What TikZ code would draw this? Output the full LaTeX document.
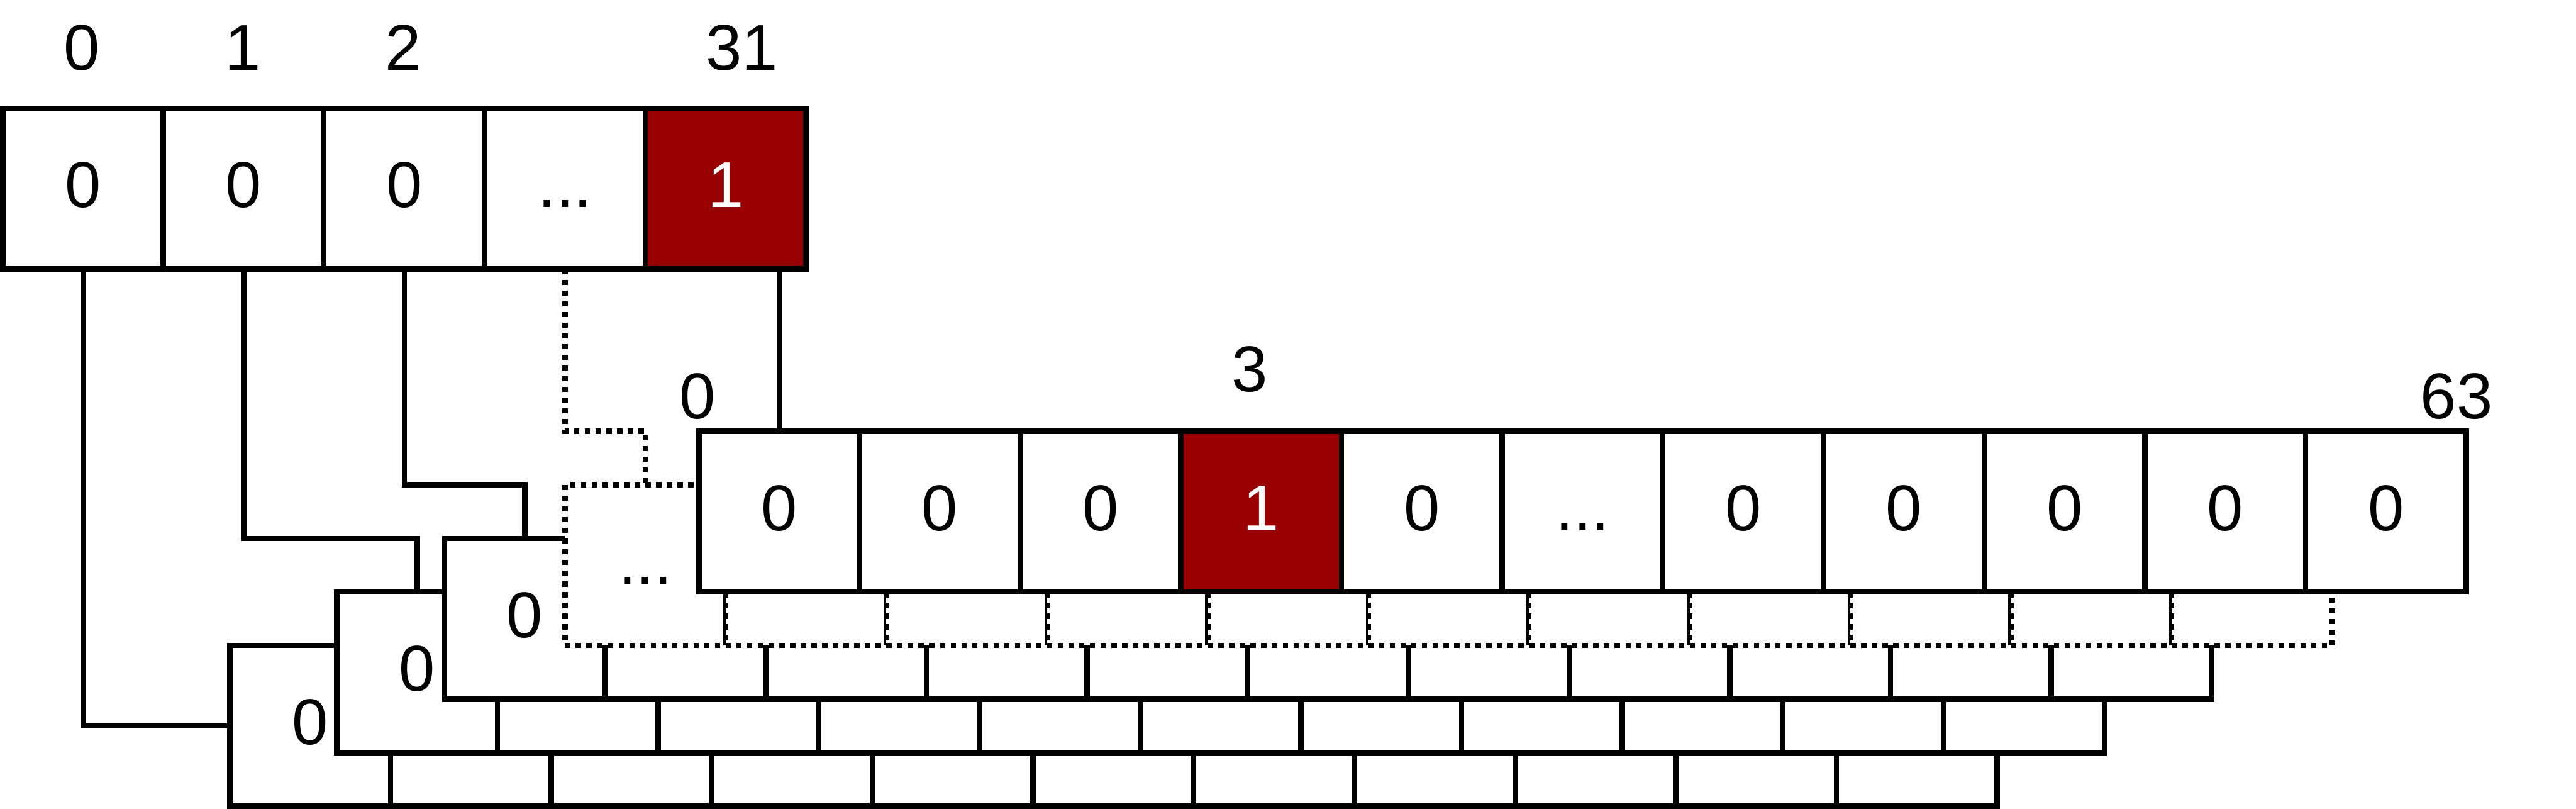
\documentclass[tikz,border=0pt]{standalone}
\usepackage{fontspec}
\setmainfont{Liberation Sans}
\definecolor{bitred}{HTML}{990000}

\begin{document}
\begin{tikzpicture}[
    font=\fontsize{17.2}{20.6}\selectfont,
    % bitmap cells
    cell/.style={rectangle, draw, line width=0.05cm, fill=white,
        minimum width=1.5cm, minimum height=1.5cm, inner sep=0pt, outer sep=0pt,
        text height=12.3pt, text depth=2.3pt},
    cellset/.style={cell, fill=bitred, text=white},
    celldots/.style={cell, dash pattern=on 0.05cm off 0.05cm},
    idx/.style={inner sep=0pt, text height=12.3pt, text depth=0pt},
    wire/.style={draw, line width=0.05cm},
    wiredots/.style={draw, line width=0.05cm, dash pattern=on 0.05cm off 0.05cm},
]
\useasboundingbox (0,0) rectangle (24.05,-7.55);

% =========================================================
% Top bitmap: 32 bits
% =========================================================
\begin{scope}[shift={(0.775,-1.76)}]
\node[cell]    (b0)  at (0,  0) {0};
\node[cell]    (b1)  at (1.5,0) {0};
\node[cell]    (b2)  at (3,  0) {0};
\node[cell]    (bd)  at (4.5,0) {...};
\node[cellset] (b31) at (6,  0) {1};
\end{scope}

% bit indices
\node[idx] (l0)  at (0.765,-0.44) {0};
\node[idx] (l1)  at (2.27, -0.44) {1};
\node[idx] (l2)  at (3.765,-0.44) {2};
\node[idx] (l31) at (6.925,-0.44) {31};

% =========================================================
% Row A: bitmap of bit 0 (back)
% =========================================================
\begin{scope}[shift={(2.895,-6.775)}]
\node[cell] (c0A)  at (0,   0) {0};
\node[cell] (c1A)  at (1.5, 0) {};
\node[cell] (c2A)  at (3,   0) {};
\node[cell] (c3A)  at (4.5, 0) {};
\node[cell] (c4A)  at (6,   0) {};
\node[cell] (c5A)  at (7.5, 0) {};
\node[cell] (c6A)  at (9,   0) {};
\node[cell] (c7A)  at (10.5,0) {};
\node[cell] (c8A)  at (12,  0) {};
\node[cell] (c9A)  at (13.5,0) {};
\node[cell] (c10A) at (15,  0) {};
\end{scope}

% =========================================================
% Row B: bitmap of bit 1
% =========================================================
\begin{scope}[shift={(3.895,-6.275)}]
\node[cell] (c0B)  at (0,   0) {0};
\node[cell] (c1B)  at (1.5, 0) {};
\node[cell] (c2B)  at (3,   0) {};
\node[cell] (c3B)  at (4.5, 0) {};
\node[cell] (c4B)  at (6,   0) {};
\node[cell] (c5B)  at (7.5, 0) {};
\node[cell] (c6B)  at (9,   0) {};
\node[cell] (c7B)  at (10.5,0) {};
\node[cell] (c8B)  at (12,  0) {};
\node[cell] (c9B)  at (13.5,0) {};
\node[cell] (c10B) at (15,  0) {};
\end{scope}

% =========================================================
% Row C: bitmap of bit 2
% =========================================================
\begin{scope}[shift={(4.9,-5.775)}]
\node[cell] (c0C)  at (0,   0) {0};
\node[cell] (c1C)  at (1.5, 0) {};
\node[cell] (c2C)  at (3,   0) {};
\node[cell] (c3C)  at (4.5, 0) {};
\node[cell] (c4C)  at (6,   0) {};
\node[cell] (c5C)  at (7.5, 0) {};
\node[cell] (c6C)  at (9,   0) {};
\node[cell] (c7C)  at (10.5,0) {};
\node[cell] (c8C)  at (12,  0) {};
\node[cell] (c9C)  at (13.5,0) {};
\node[cell] (c10C) at (15,  0) {};
\end{scope}

% =========================================================
% Row D: the bitmaps in between (dotted)
% =========================================================
\begin{scope}[shift={(6.025,-5.275)}]
\node[celldots] (c0D)  at (0,   0) {...};
\node[celldots] (c1D)  at (1.5, 0) {};
\node[celldots] (c2D)  at (3,   0) {};
\node[celldots] (c3D)  at (4.5, 0) {};
\node[celldots] (c4D)  at (6,   0) {};
\node[celldots] (c5D)  at (7.5, 0) {};
\node[celldots] (c6D)  at (9,   0) {};
\node[celldots] (c7D)  at (10.5,0) {};
\node[celldots] (c8D)  at (12,  0) {};
\node[celldots] (c9D)  at (13.5,0) {};
\node[celldots] (c10D) at (15,  0) {};
\end{scope}

% =========================================================
% Row E: bitmap of bit 31 (front)
% =========================================================
\begin{scope}[shift={(7.275,-4.775)}]
\node[cell]    (c0E)  at (0,   0) {0};
\node[cell]    (c1E)  at (1.5, 0) {0};
\node[cell]    (c2E)  at (3,   0) {0};
\node[cellset] (c3E)  at (4.5, 0) {1};
\node[cell]    (c4E)  at (6,   0) {0};
\node[cell]    (c5E)  at (7.5, 0) {...};
\node[cell]    (c6E)  at (9,   0) {0};
\node[cell]    (c7E)  at (10.5,0) {0};
\node[cell]    (c8E)  at (12,  0) {0};
\node[cell]    (c9E)  at (13.5,0) {0};
\node[cell]    (c10E) at (15,  0) {0};
\end{scope}

% bit indices of row E
\node[idx] (lE0)  at (6.515, -3.69) {0};
\node[idx] (lE3)  at (11.665,-3.44) {3};
\node[idx] (lE63) at (22.935,-3.69) {63};

% =========================================================
% links from the top bits to their rows
% =========================================================
\draw[wire] (b0.south) |- (c0A.west);
\draw[wire] (b1.south) |- (c0B.north |- c0C.north) -- (c0B.north);
\draw[wire] (b2.south) |- (c0C.north |- c0D.north) -- (c0C.north);
\draw[wiredots] (bd.south) |- (c0D.north |- c0E.north) -- (c0D.north);
\draw[wire] (c0E.north |- b31.south) -- (c0E.north);

\end{tikzpicture}
\end{document}
